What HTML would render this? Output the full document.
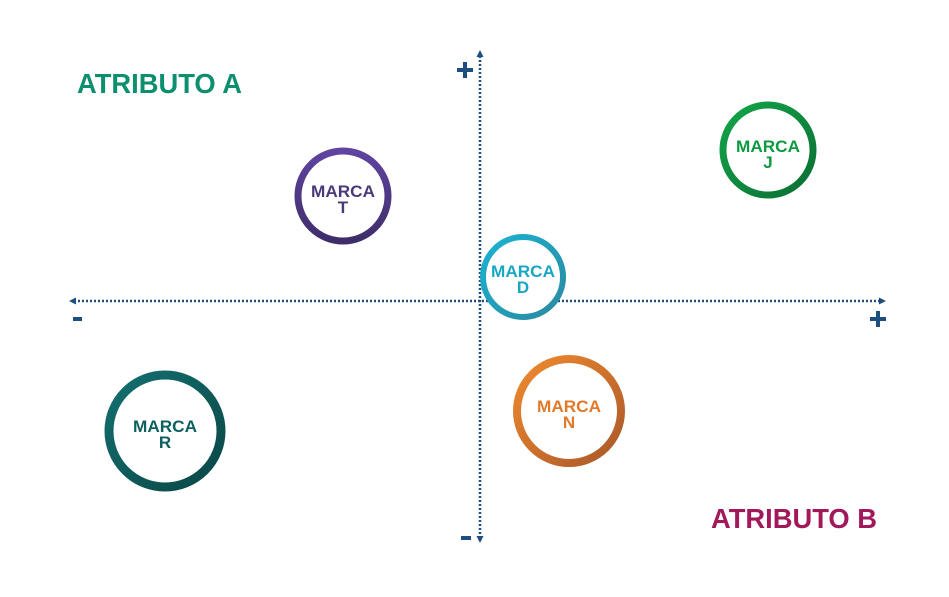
<!DOCTYPE html>
<html><head><meta charset="utf-8"><style>
body{margin:0;background:#fff;}
svg text{font-family:"Liberation Sans",Arial,sans-serif;font-weight:bold;}
</style></head><body>
<svg width="949" height="592" viewBox="0 0 949 592" xmlns="http://www.w3.org/2000/svg">
<defs>
<linearGradient id="gT" x1="0" y1="0" x2="0" y2="1"><stop offset="0" stop-color="#5f44a0"/><stop offset="1" stop-color="#3f2d6a"/></linearGradient>
<linearGradient id="gJ" x1="0" y1="0" x2="1" y2="1"><stop offset="0" stop-color="#12a548"/><stop offset="1" stop-color="#0b6e35"/></linearGradient>
<linearGradient id="gD" x1="0" y1="0" x2="1" y2="1"><stop offset="0" stop-color="#1ab3d3"/><stop offset="1" stop-color="#2a8aa0"/></linearGradient>
<linearGradient id="gN" x1="0" y1="0" x2="1" y2="1"><stop offset="0" stop-color="#f08a2e"/><stop offset="1" stop-color="#a9582a"/></linearGradient>
<linearGradient id="gR" x1="0" y1="0" x2="1" y2="1"><stop offset="0" stop-color="#147070"/><stop offset="1" stop-color="#0b4646"/></linearGradient>
</defs>
<g stroke="#1c4e80" stroke-width="2.5" stroke-dasharray="2 2" fill="none">
<line x1="74" y1="301" x2="880" y2="301"/>
<line x1="480" y1="56" x2="480" y2="537"/>
</g>
<g fill="#1c4e80">
<polygon points="69,301 76,297.5 76,304.5"/>
<polygon points="886,301 879,297.5 879,304.5"/>
<polygon points="480,50 476.5,57 483.5,57"/>
<polygon points="480,543 476.5,536 483.5,536"/>
<rect x="457" y="68" width="16" height="4"/><rect x="463" y="62" width="4" height="16"/>
<rect x="870" y="317" width="16" height="4"/><rect x="876" y="311" width="4" height="16"/>
<rect x="73" y="317" width="9" height="4"/>
<rect x="461" y="536" width="10" height="4"/>
</g>
<text x="77" y="93" font-size="28" fill="#0b8f6e" textLength="165" lengthAdjust="spacingAndGlyphs">ATRIBUTO A</text>
<text x="711" y="528" font-size="28" fill="#a3185a" textLength="166" lengthAdjust="spacingAndGlyphs">ATRIBUTO B</text>
<g font-size="17" text-anchor="middle">
<circle cx="343" cy="196" r="45" fill="#fff" stroke="url(#gT)" stroke-width="7"/>
<text x="343" y="197" fill="#4a3a7a" textLength="64" lengthAdjust="spacingAndGlyphs">MARCA</text>
<text x="343" y="213" fill="#4a3a7a">T</text>
<circle cx="768" cy="150" r="45" fill="#fff" stroke="url(#gJ)" stroke-width="7"/>
<text x="768" y="152" fill="#0d9a40" textLength="64" lengthAdjust="spacingAndGlyphs">MARCA</text>
<text x="768" y="168" fill="#0d9a40">J</text>
<circle cx="523" cy="277" r="40" fill="#fff" stroke="url(#gD)" stroke-width="6"/>
<text x="523" y="277" fill="#1aa7c5" textLength="64" lengthAdjust="spacingAndGlyphs">MARCA</text>
<text x="523" y="293" fill="#1aa7c5">D</text>
<circle cx="569" cy="411" r="52" fill="#fff" stroke="url(#gN)" stroke-width="8"/>
<text x="569" y="412" fill="#e07a2a" textLength="64" lengthAdjust="spacingAndGlyphs">MARCA</text>
<text x="569" y="428" fill="#e07a2a">N</text>
<circle cx="165" cy="431" r="56" fill="#fff" stroke="url(#gR)" stroke-width="9"/>
<text x="165" y="432" fill="#0e6060" textLength="64" lengthAdjust="spacingAndGlyphs">MARCA</text>
<text x="165" y="448" fill="#0e6060">R</text>
</g>
</svg>
</body></html>
